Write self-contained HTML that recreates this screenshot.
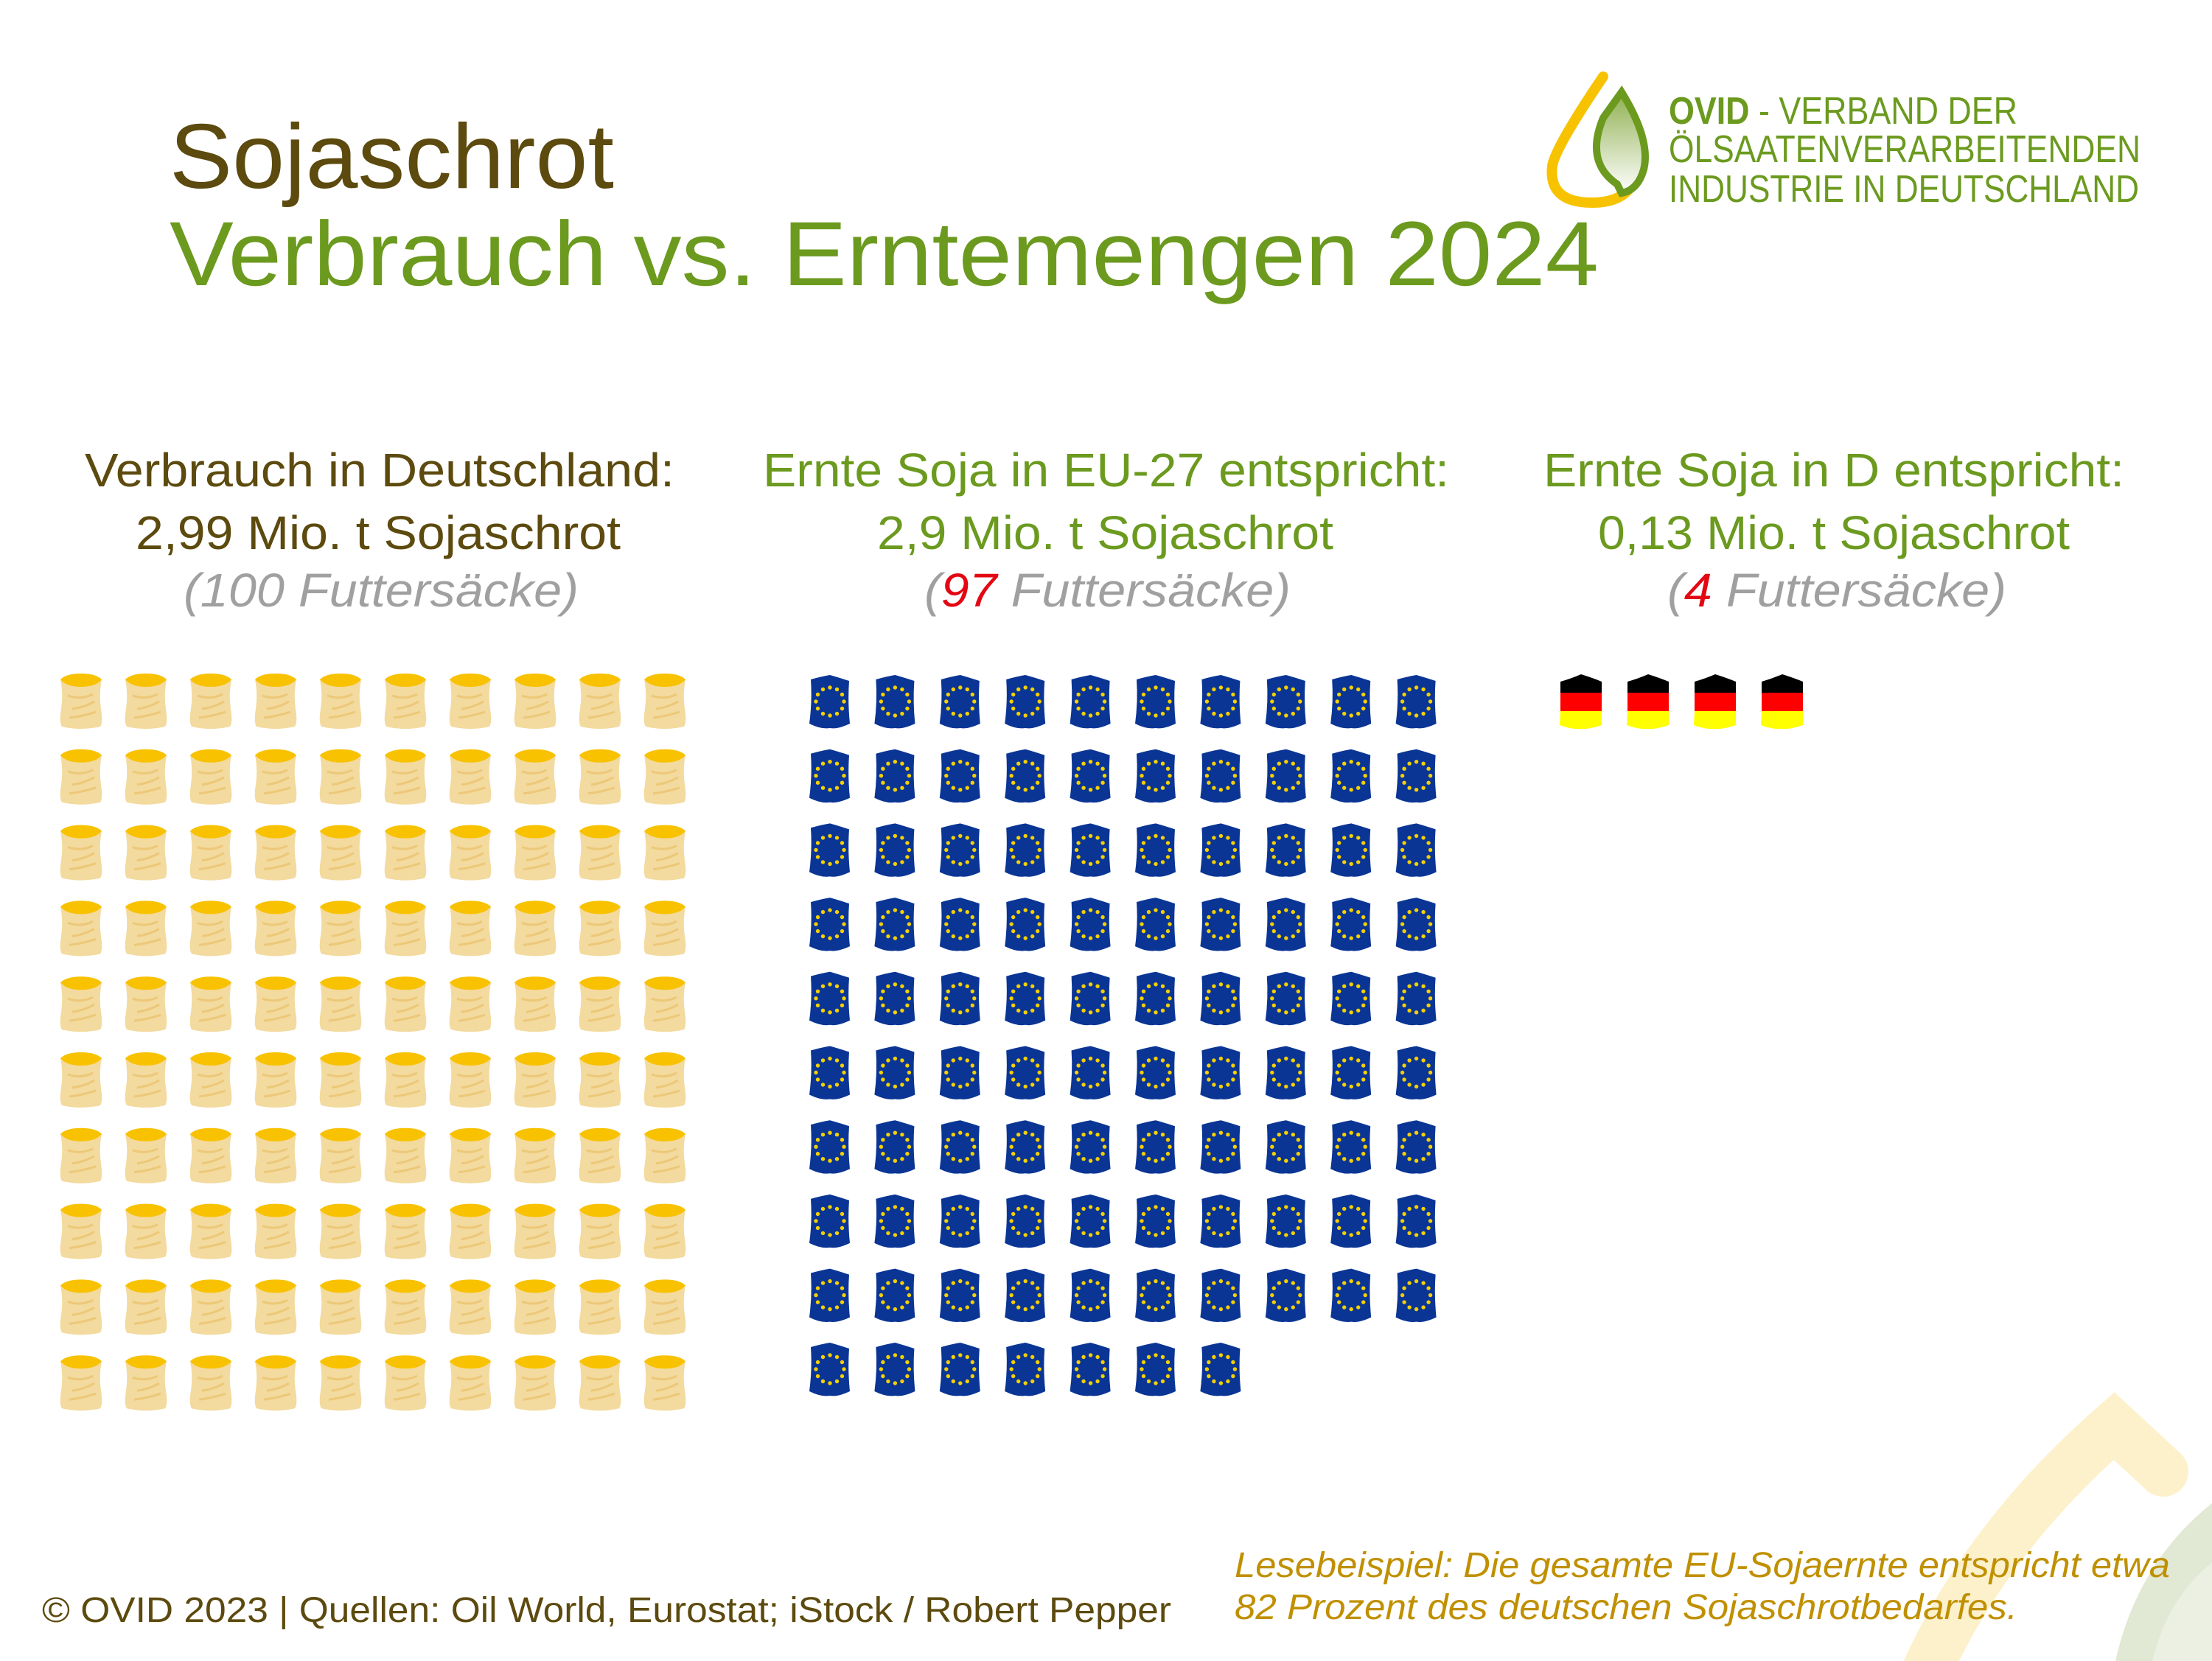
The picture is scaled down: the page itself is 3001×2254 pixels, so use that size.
<!DOCTYPE html>
<html><head><meta charset="utf-8"><style>
html,body{margin:0;padding:0;background:#fff;}
svg{display:block;font-family:"Liberation Sans",sans-serif;}
</style></head><body>
<svg width="3001" height="2254" viewBox="0 0 3001 2254" xmlns="http://www.w3.org/2000/svg" xmlns:xlink="http://www.w3.org/1999/xlink">
<defs>
<linearGradient id="lg" x1="0" y1="0" x2="0" y2="1"><stop offset="0" stop-color="#8fb050"/><stop offset="1" stop-color="#ffffff"/></linearGradient>
<g id="ys">
  <path d="M-28,-30 Q-20,-36 0,-36 Q20,-36 28,-30 Q24,-10 27,10 Q30,28 26,34 Q0,40 -26,34 Q-30,28 -27,10 Q-24,-10 -28,-30Z" fill="#f3da9e"/>
  <path d="M-28,-30 Q-20,-38 0,-38 Q20,-38 28,-30 Q20,-20 0,-20 Q-20,-20 -28,-30Z" fill="#f8c200"/>
  <path d="M-18,-8 Q0,-2 16,-10 M-12,10 Q4,8 18,0 M-16,22 Q2,20 20,14" stroke="#ecc878" stroke-width="3" fill="none"/>
</g>
<g id="eu">
  <path d="M-26,-30 Q-12,-34 0,-36 Q14,-32 26,-28 Q24,0 27,30 Q10,38 0,36 Q-12,38 -28,30 Q-24,0 -26,-30Z" fill="#0a3595"/>
  <g fill="#f5d000">
    <circle cx="0" cy="-19" r="2.7"/><circle cx="9.5" cy="-16.5" r="2.7"/><circle cx="16.5" cy="-9.5" r="2.7"/><circle cx="19" cy="0" r="2.7"/><circle cx="16.5" cy="9.5" r="2.7"/><circle cx="9.5" cy="16.5" r="2.7"/><circle cx="0" cy="19" r="2.7"/><circle cx="-9.5" cy="16.5" r="2.7"/><circle cx="-16.5" cy="9.5" r="2.7"/><circle cx="-19" cy="0" r="2.7"/><circle cx="-16.5" cy="-9.5" r="2.7"/><circle cx="-9.5" cy="-16.5" r="2.7"/>
  </g>
</g>
<g id="de">
  <path d="M-28,-27 Q-14,-31 0,-37 Q16,-32 28,-27 L28,-12 L-28,-12Z" fill="#000"/>
  <rect x="-28" y="-12" width="56" height="25" fill="#ff0000"/>
  <path d="M-28,13 L28,13 L28,32 Q10,38 0,37 Q-14,38 -29,32Z" fill="#ffff00"/>
</g>
<g id="yrow">
  <use xlink:href="#ys" href="#ys" x="0"/><use xlink:href="#ys" href="#ys" x="88"/><use xlink:href="#ys" href="#ys" x="176"/><use xlink:href="#ys" href="#ys" x="264"/><use xlink:href="#ys" href="#ys" x="352"/><use xlink:href="#ys" href="#ys" x="440"/><use xlink:href="#ys" href="#ys" x="528"/><use xlink:href="#ys" href="#ys" x="616"/><use xlink:href="#ys" href="#ys" x="704"/><use xlink:href="#ys" href="#ys" x="792"/>
</g>
<g id="eu7">
  <use xlink:href="#eu" href="#eu" x="0"/><use xlink:href="#eu" href="#eu" x="88.4"/><use xlink:href="#eu" href="#eu" x="176.8"/><use xlink:href="#eu" href="#eu" x="265.2"/><use xlink:href="#eu" href="#eu" x="353.6"/><use xlink:href="#eu" href="#eu" x="442"/><use xlink:href="#eu" href="#eu" x="530.4"/>
</g>
<g id="eurow">
  <use xlink:href="#eu7" href="#eu7"/><use xlink:href="#eu" href="#eu" x="618.8"/><use xlink:href="#eu" href="#eu" x="707.2"/><use xlink:href="#eu" href="#eu" x="795.6"/>
</g>
</defs>

<!-- decorative bottom right -->
<path d="M2600,2300 Q2680,2100 2868,1935 L2935,1997" stroke="#fdf1cc" stroke-width="68" fill="none" stroke-linecap="round"/>
<path d="M3001,2040 Q2900,2120 2870,2254 L3001,2254Z" fill="#e1e8d3"/>
<path d="M3001,2120 Q2940,2170 2920,2254 L3001,2254Z" fill="#ebf0e2"/>

<!-- titles -->
<text x="230" y="255" font-size="124" fill="#5c4a0e" textLength="603" lengthAdjust="spacingAndGlyphs">Sojaschrot</text>
<text x="230" y="387" font-size="124" fill="#6b9a1f" textLength="1939" lengthAdjust="spacingAndGlyphs">Verbrauch vs. Erntemengen 2024</text>

<!-- logo -->
<path d="M2175,104 Q2110,200 2106,225 Q2100,275 2160,275 Q2200,275 2215,250" stroke="#f7c300" stroke-width="14" fill="none" stroke-linecap="round"/>
<path d="M2194,250 Q2150,220 2175,160 L2200,125 Q2240,190 2230,230 Q2222,258 2200,262Z" fill="url(#lg)" stroke="#6b9a1f" stroke-width="10"/>
<text x="2264" y="168" font-size="52" fill="#6b9a1f" textLength="473" lengthAdjust="spacingAndGlyphs"><tspan font-weight="bold">OVID</tspan> - VERBAND DER</text>
<text x="2264" y="220" font-size="52" fill="#6b9a1f" textLength="640" lengthAdjust="spacingAndGlyphs">ÖLSAATENVERARBEITENDEN</text>
<text x="2264" y="274" font-size="52" fill="#6b9a1f" textLength="638" lengthAdjust="spacingAndGlyphs">INDUSTRIE IN DEUTSCHLAND</text>

<!-- headings -->
<g font-size="64">
<text x="115" y="660" fill="#5c4a0e" textLength="800" lengthAdjust="spacingAndGlyphs">Verbrauch in Deutschland:</text>
<text x="184" y="745" fill="#5c4a0e" textLength="658" lengthAdjust="spacingAndGlyphs">2,99 Mio. t Sojaschrot</text>
<text x="249" y="823" fill="#a0a0a0" font-style="italic" textLength="536" lengthAdjust="spacingAndGlyphs">(100 Futtersäcke)</text>
<text x="1035" y="660" fill="#6b9a1f" textLength="931" lengthAdjust="spacingAndGlyphs">Ernte Soja in EU-27 entspricht:</text>
<text x="1190" y="745" fill="#6b9a1f" textLength="619" lengthAdjust="spacingAndGlyphs">2,9 Mio. t Sojaschrot</text>
<text x="1254" y="823" fill="#a0a0a0" font-style="italic" textLength="497" lengthAdjust="spacingAndGlyphs">(<tspan fill="#e30613">97</tspan> Futtersäcke)</text>
<text x="2094" y="660" fill="#6b9a1f" textLength="788" lengthAdjust="spacingAndGlyphs">Ernte Soja in D entspricht:</text>
<text x="2168" y="745" fill="#6b9a1f" textLength="640" lengthAdjust="spacingAndGlyphs">0,13 Mio. t Sojaschrot</text>
<text x="2262" y="823" fill="#a0a0a0" font-style="italic" textLength="460" lengthAdjust="spacingAndGlyphs">(<tspan fill="#e30613">4</tspan> Futtersäcke)</text>
</g>

<!-- yellow sacks -->
<g transform="translate(110,0)">
<use xlink:href="#yrow" href="#yrow" y="952"/>
<use xlink:href="#yrow" href="#yrow" y="1054.8"/>
<use xlink:href="#yrow" href="#yrow" y="1157.6"/>
<use xlink:href="#yrow" href="#yrow" y="1260.4"/>
<use xlink:href="#yrow" href="#yrow" y="1363.2"/>
<use xlink:href="#yrow" href="#yrow" y="1466"/>
<use xlink:href="#yrow" href="#yrow" y="1568.8"/>
<use xlink:href="#yrow" href="#yrow" y="1671.6"/>
<use xlink:href="#yrow" href="#yrow" y="1774.4"/>
<use xlink:href="#yrow" href="#yrow" y="1877.2"/>
</g>
<!-- EU sacks -->
<g transform="translate(1126,0)">
<use xlink:href="#eurow" href="#eurow" y="952"/>
<use xlink:href="#eurow" href="#eurow" y="1052.7"/>
<use xlink:href="#eurow" href="#eurow" y="1153.4"/>
<use xlink:href="#eurow" href="#eurow" y="1254.1"/>
<use xlink:href="#eurow" href="#eurow" y="1354.8"/>
<use xlink:href="#eurow" href="#eurow" y="1455.5"/>
<use xlink:href="#eurow" href="#eurow" y="1556.2"/>
<use xlink:href="#eurow" href="#eurow" y="1656.9"/>
<use xlink:href="#eurow" href="#eurow" y="1757.6"/>
<use xlink:href="#eu7" href="#eu7" y="1858"/>
</g>
<!-- DE sacks -->
<use xlink:href="#de" href="#de" x="2145" y="952"/>
<use xlink:href="#de" href="#de" x="2236" y="952"/>
<use xlink:href="#de" href="#de" x="2327" y="952"/>
<use xlink:href="#de" href="#de" x="2418" y="952"/>

<!-- footer -->
<text x="57" y="2201" font-size="48" fill="#5c4a0e" textLength="1532" lengthAdjust="spacingAndGlyphs">© OVID 2023 |  Quellen: Oil World, Eurostat; iStock / Robert Pepper</text>
<text x="1675" y="2140" font-size="48" fill="#c09000" font-style="italic" textLength="1269" lengthAdjust="spacingAndGlyphs">Lesebeispiel: Die gesamte EU-Sojaernte entspricht etwa</text>
<text x="1675" y="2197" font-size="48" fill="#c09000" font-style="italic" textLength="1062" lengthAdjust="spacingAndGlyphs">82 Prozent des deutschen Sojaschrotbedarfes.</text>
</svg>
</body></html>
